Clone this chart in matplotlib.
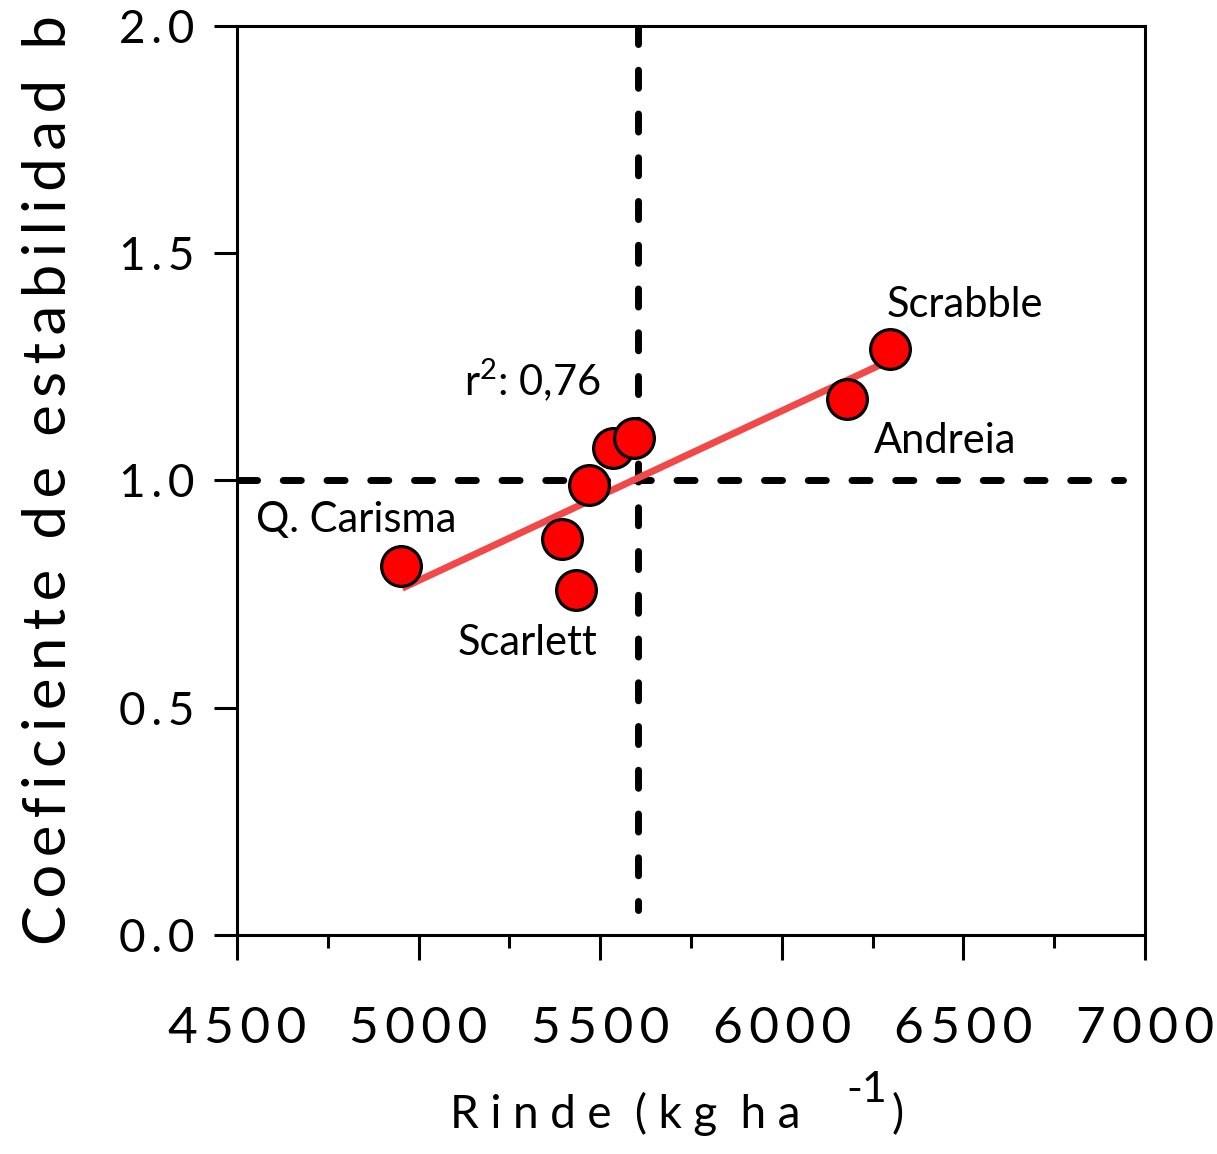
import numpy as np
import matplotlib
matplotlib.use("Agg")
import matplotlib.pyplot as plt

plt.rcParams['font.family'] = ['Lato', 'DejaVu Sans']
plt.rcParams['mathtext.fontset'] = 'custom'
plt.rcParams['mathtext.rm'] = 'Lato'
plt.rcParams['mathtext.it'] = 'Lato'

# yield (kg/ha) and stability coefficient b per cultivar
rinde = [4952, 5395, 5433, 5469, 5535, 5593, 6180, 6298]
coef_b = [0.812, 0.871, 0.759, 0.990, 1.071, 1.094, 1.179, 1.289]

# fitted regression line (b = a + m * rinde)
fit_a = -1.0867
fit_m = 3.733e-4
fit_x = [4955, 6281]
r2_text = "r$^2$: 0,76"

# reference lines: mean yield and b = 1
mean_rinde = 5605
b_ref = 1.0

# cultivar labels (left edge, baseline)
labels = ["Scrabble", "Andreia", "Q. Carisma", "Scarlett", r2_text]
label_x = [6290, 6254, 4552, 5108, 5125]
label_y = [1.360, 1.060, 0.887, 0.616, 1.188]

xticks = [4500, 5000, 5500, 6000, 6500, 7000]
yticks = [0.0, 0.5, 1.0, 1.5, 2.0]

TS = "\u2009"  # thin space used as letter spacing


def spaced(s, sep=TS):
    return sep.join(s)


def spaced_words(s, sep):
    return (sep + " ").join(spaced(w, sep) for w in s.split(" "))


fig = plt.figure(figsize=(12.17, 11.54), dpi=100)
ax = fig.add_axes([0.1947, 0.1898, 0.7461, 0.7877])

# dashed reference lines
ax.plot([mean_rinde, mean_rinde], [2.0, 0.055], color="black", lw=5,
        dashes=(2.6, 3.7), dash_capstyle="round", zorder=1)
ax.plot([4505, 6940], [b_ref, b_ref], color="black", lw=5,
        dashes=(2.6, 3.7), dash_capstyle="round", zorder=1)

# regression line
fx = np.array(fit_x)
ax.plot(fx, fit_a + fit_m * fx, color="#f24848", lw=5, solid_capstyle="butt", zorder=2)

# cultivar points
ax.scatter(rinde, coef_b, s=820, color="#ff0000", edgecolor="black", linewidth=2.3, zorder=3)

for t, x, y in zip(labels, label_x, label_y):
    ax.text(x, y, t, fontsize=30, ha="left", va="baseline")

ax.set_xlim(4500, 7000)
ax.set_ylim(0, 2.0)
ax.set_xticks(xticks)
ax.set_xticklabels([spaced(str(v)) for v in xticks])
ax.set_xticks(np.arange(4750, 7000, 500), minor=True)
ax.set_yticks(yticks)
ax.set_yticklabels([spaced(f"{v:.1f}") for v in yticks])

ax.tick_params(axis="y", which="major", direction="out", length=16.5, width=2.2,
               labelsize=33, pad=14)
ax.tick_params(axis="x", which="major", direction="out", length=18, width=2.2,
               labelsize=37, pad=33)
ax.tick_params(axis="x", which="minor", direction="out", length=9.5, width=2.2)
for sp in ax.spines.values():
    sp.set_linewidth(2.2)

# x axis title, with a raised "-1" exponent
xl = ax.text(0.2346, -0.2123, spaced_words("Rinde (kg ha", TS * 2),
             transform=ax.transAxes, fontsize=33, ha="left", va="baseline")
sup = ax.annotate("-1", xy=(1, -0.1837), xycoords=(xl, "axes fraction"),
                  xytext=(33, 0), textcoords="offset points",
                  fontsize=31, ha="left", va="baseline")
ax.annotate(")", xy=(1, -0.2123), xycoords=(sup, "axes fraction"),
            xytext=(3, 0), textcoords="offset points",
            fontsize=33, ha="left", va="baseline")

ax.set_ylabel(spaced("Coeficiente de estabilidad b"), fontsize=43, labelpad=31)

fig.savefig("out.png", dpi=100)
